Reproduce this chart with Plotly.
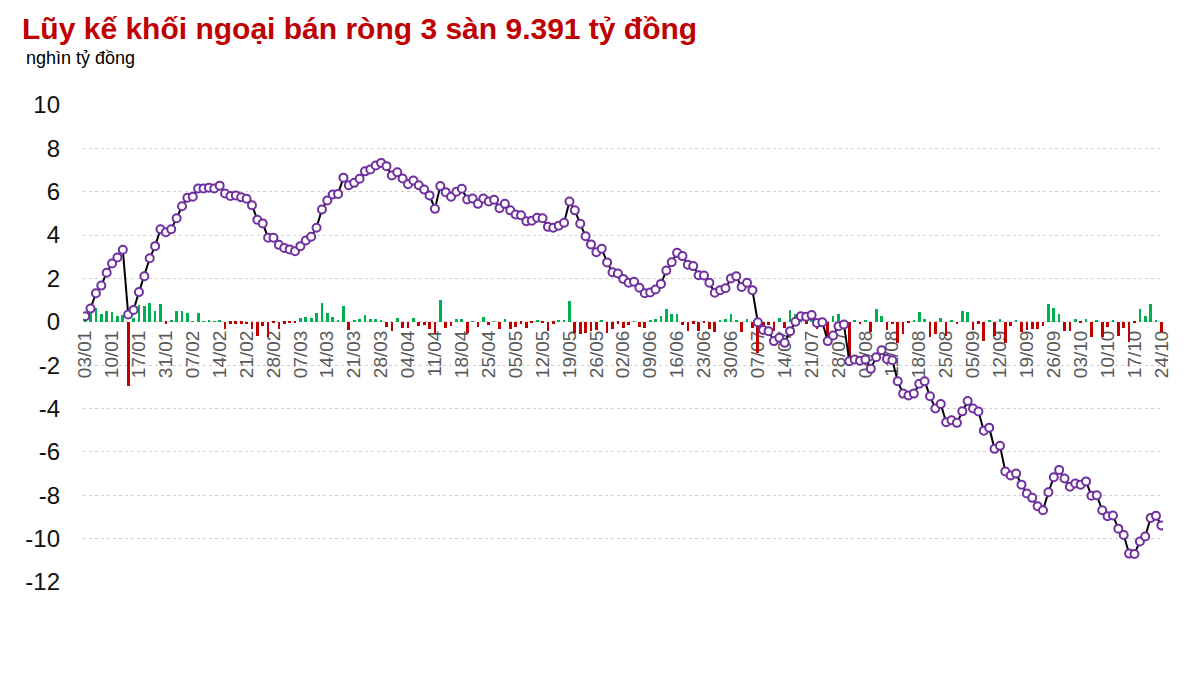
import plotly.graph_objects as go

# so lieu doc tu hinh: gia tri rong tung phien va luy ke (nghin ty dong)
tick_labels = ["03/01", "10/01", "17/01", "31/01", "07/02", "14/02", "21/02", "28/02",
               "07/03", "14/03", "21/03", "28/03", "04/04", "11/04", "18/04", "25/04",
               "05/05", "12/05", "19/05", "26/05", "02/06", "09/06", "16/06", "23/06",
               "30/06", "07/07", "14/07", "21/07", "28/07", "04/08", "11/08", "18/08",
               "25/08", "05/09", "12/09", "19/09", "26/09", "03/10", "10/10", "17/10",
               "24/10"]

y_ticks = [10, 8, 6, 4, 2, 0, -2, -4, -6, -8, -10, -12]

daily = [0.05, 0.41, 0.65, 0.34, 0.52, 0.45, 0.26, 0.31, -2.98, 0.17,
         0.77, 0.72, 0.85, 0.52, 0.80, -0.08, 0.08, 0.49, 0.52, 0.40,
         0.02, 0.40, 0.03, 0.05, 0.01, 0.06, -0.35, -0.09, -0.08, -0.08,
         -0.12, -0.32, -0.66, -0.20, -0.69, -0.03, -0.32, -0.09, -0.06, -0.03,
         0.18, 0.23, 0.18, 0.42, 0.85, 0.42, 0.23, 0.06, 0.72, -0.38,
         0.09, 0.15, 0.31, 0.11, 0.11, 0.09, -0.23, -0.43, 0.18, -0.28,
         -0.28, 0.18, -0.20, -0.14, -0.32, -0.54, 1.00, -0.30, -0.17, 0.15,
         0.14, -0.50, 0.02, -0.25, 0.23, -0.15, 0.03, -0.35, 0.14, -0.32,
         -0.23, -0.08, -0.28, -0.06, 0.08, -0.02, -0.43, -0.08, 0.05, 0.09,
         0.95, -0.50, -0.58, -0.50, -0.43, -0.38, 0.09, -0.50, -0.32, -0.09,
         -0.28, -0.15, 0.03, -0.23, -0.28, 0.06, 0.14, 0.26, 0.60, 0.34,
         0.38, -0.15, -0.43, -0.09, -0.43, -0.02, -0.35, -0.48, 0.09, 0.11,
         0.38, 0.05, -0.46, 0.14, -0.28, -1.43, -0.28, -0.15, -0.43, 0.18,
         -0.28, 0.54, 0.37, 0.14, -0.08, 0.18, -0.32, 0.02, -0.82, 0.29,
         0.38, 0.05, -1.70, 0.06, -0.10, 0.06, -0.48, 0.57, 0.26, -0.38,
         -0.10, -0.97, -0.55, -0.05, 0.06, 0.45, 0.14, -0.70, -0.54, 0.18,
         -0.66, 0.08, -0.12, 0.52, 0.46, -0.40, -0.09, -0.89, 0.08, -0.66,
         0.14, -0.97, -0.17, 0.06, -0.48, -0.38, -0.32, -0.35, -0.17, 0.80,
         0.65, 0.37, -0.43, -0.43, 0.14, -0.06, 0.14, -0.70, 0.06, -0.70,
         -0.23, 0.05, -0.66, -0.28, -0.94, -0.05, 0.57, 0.26, 0.80, 0.06,
         -0.48]

cumulative = [0.26, 0.61, 1.32, 1.67, 2.26, 2.69, 2.97, 3.32, 0.34, 0.55,
              1.37, 2.10, 2.93, 3.49, 4.27, 4.13, 4.27, 4.78, 5.33, 5.72,
              5.77, 6.15, 6.15, 6.18, 6.15, 6.28, 5.92, 5.80, 5.83, 5.74,
              5.68, 5.38, 4.71, 4.54, 3.88, 3.88, 3.55, 3.41, 3.34, 3.26,
              3.49, 3.75, 3.92, 4.34, 5.18, 5.60, 5.87, 5.90, 6.65, 6.30,
              6.41, 6.60, 6.94, 7.03, 7.21, 7.33, 7.18, 6.75, 6.90, 6.61,
              6.35, 6.52, 6.30, 6.10, 5.83, 5.21, 6.26, 5.98, 5.77, 6.00,
              6.14, 5.64, 5.69, 5.44, 5.69, 5.55, 5.63, 5.24, 5.44, 5.14,
              4.95, 4.91, 4.64, 4.66, 4.80, 4.78, 4.38, 4.34, 4.43, 4.57,
              5.55, 5.14, 4.52, 3.95, 3.57, 3.21, 3.37, 2.74, 2.29, 2.23,
              1.98, 1.80, 1.85, 1.57, 1.32, 1.35, 1.49, 1.75, 2.37, 2.75,
              3.18, 3.03, 2.63, 2.57, 2.15, 2.14, 1.80, 1.34, 1.46, 1.55,
              2.00, 2.10, 1.61, 1.80, 1.46, -0.02, -0.38, -0.43, -0.89, -0.74,
              -0.97, -0.43, 0.00, 0.26, 0.23, 0.31, -0.05, -0.02, -0.89, -0.63,
              -0.20, -0.12, -1.82, -1.74, -1.79, -1.74, -2.17, -1.63, -1.31, -1.71,
              -1.77, -2.74, -3.31, -3.40, -3.31, -2.86, -2.74, -3.43, -4.00, -3.79,
              -4.63, -4.54, -4.66, -4.13, -3.65, -4.00, -4.14, -5.02, -4.88, -5.86,
              -5.72, -6.90, -7.09, -7.00, -7.51, -7.92, -8.12, -8.51, -8.69, -7.86,
              -7.17, -6.83, -7.23, -7.61, -7.46, -7.51, -7.36, -8.02, -8.00, -8.69,
              -8.97, -8.93, -9.54, -9.83, -10.69, -10.71, -10.13, -9.90, -9.05, -8.95,
              -9.39]

x = list(range(len(cumulative)))
bar_colors = ["#00b050" if v >= 0 else "#c00000" for v in daily]

fig = go.Figure()
fig.add_trace(go.Bar(x=x, y=daily, marker_color=bar_colors, marker_line_width=0,
                     width=0.5, showlegend=False))
fig.add_trace(go.Scatter(x=x, y=cumulative, mode="lines+markers",
                         line=dict(color="black", width=2),
                         marker=dict(symbol="circle", size=8, color="white",
                                     line=dict(color="#7030a0", width=2)),
                         showlegend=False))

# trang html co le 8px, nen le duoc tru bot tuong ung
y_min, y_max = -12, 10
fig.update_layout(
    width=1200, height=680,
    margin=dict(l=75, r=45, t=97, b=106, autoexpand=False),
    plot_bgcolor="white", paper_bgcolor="white",
    font=dict(family="Liberation Sans, Arial, sans-serif"),
    title=dict(text="<b>Lũy kế khối ngoại bán ròng 3 sàn 9.391 tỷ đồng</b>",
               font=dict(size=30, color="#c00000"),
               x=0.0117, xanchor="left", y=0.986, yanchor="top"),
    bargap=0,
    annotations=[dict(text="nghìn tỷ đồng", xref="paper", yref="paper",
                      x=-0.055, y=1.098, xanchor="left", yanchor="middle",
                      showarrow=False, font=dict(size=18, color="black"))],
)
fig.update_yaxes(range=[y_min, y_max], tickmode="array", tickvals=y_ticks,
                 ticktext=[str(v) for v in y_ticks], showgrid=True,
                 gridcolor="#d0d0d0", griddash="dot", gridwidth=1,
                 zeroline=False, showline=False, automargin=False,
                 tickfont=dict(size=24, color="#111111"), ticklabelstandoff=22)
fig.update_xaxes(range=[-0.4, 200.3], tickmode="array",
                 tickvals=list(range(0, len(cumulative), 5)), ticktext=tick_labels,
                 tickangle=-90, tickfont=dict(size=19, color="#595959"),
                 showgrid=False, zeroline=False, showline=False, ticks="",
                 automargin=False, ticklabelstandoff=4,
                 anchor="free", position=(0 - y_min) / (y_max - y_min),
                 layer="below traces")

fig.write_html("out.html")
